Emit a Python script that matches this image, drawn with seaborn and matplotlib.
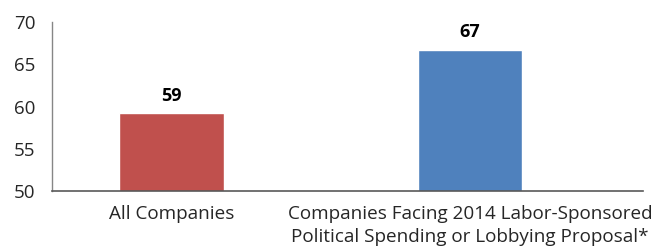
import numpy as np
import seaborn as sns
import matplotlib.pyplot as plt
import pandas as pd

categories = ["All Companies",
              "Companies Facing 2014 Labor-Sponsored\nPolitical Spending or Lobbying Proposal*"]
values = [59.2, 66.7]
value_labels = ["59", "67"]
colors = ["#C0504D", "#4F81BD"]

df = pd.DataFrame({"group": categories, "pct": values})

sns.set_style("white")
plt.rcParams["font.family"] = ["Open Sans", "DejaVu Sans"]

fig = plt.figure(figsize=(6.61, 2.48), dpi=100)
ax = fig.add_axes([0.0787, 0.230, 0.894, 0.681])

sns.barplot(data=df, x="group", y="pct", hue="group", palette=colors,
            width=0.35, saturation=1, legend=False, ax=ax)

for i, (v, lab) in enumerate(zip(values, value_labels)):
   ax.text(i, v + 1.0, lab, ha="center", va="bottom",
           fontsize=13, fontweight="bold", color="black")

ax.set_ylim(50, 70)
ax.set_yticks([50, 55, 60, 65, 70])
ax.set_xlim(-0.40, 1.58)
ax.set_xlabel("")
ax.set_ylabel("")

# bottom axis tick marks between categories (Excel style)
ax.set_xticks([-0.40, 0.48, 1.58], minor=True)
ax.tick_params(axis="x", which="minor", length=5, width=1, color="#7f7f7f", direction="out")
ax.tick_params(axis="x", which="major", length=0, labelsize=13.6, pad=10)
ax.tick_params(axis="y", length=4, width=1, color="#7f7f7f", direction="out",
               labelsize=13.5, pad=8)
for lab in ax.get_xticklabels():
   lab.set_linespacing(1.4)

for s in ["top", "right"]:
   ax.spines[s].set_visible(False)
ax.spines["left"].set_color("#868686")
ax.spines["bottom"].set_color("#595959")
ax.spines["left"].set_linewidth(1)
ax.spines["bottom"].set_linewidth(1.2)

plt.savefig("out.png", dpi=100)
